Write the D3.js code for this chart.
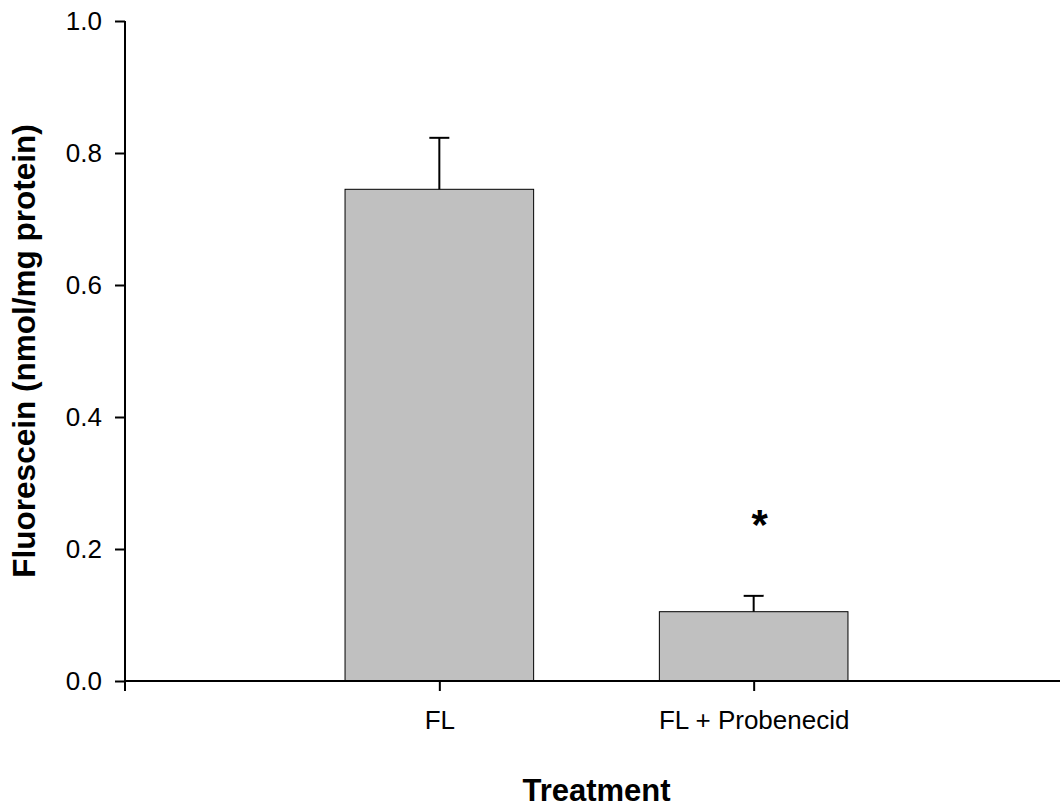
<!DOCTYPE html>
<html>
<head>
<meta charset="utf-8">
<script src="https://cdn.jsdelivr.net/npm/d3@7"></script>
<style>
  html, body { margin: 0; padding: 0; background: #fff; }
  svg { display: block; }
  text { font-family: "Liberation Sans", Arial, sans-serif; fill: #000; }
</style>
</head>
<body>
<svg id="chart" width="1060" height="809"></svg>
<script>
// Fluorescein uptake by treatment (mean with upper SEM bar)
const categories = ["FL", "FL + Probenecid"];
const means = [0.745, 0.105];
const errors = [0.078, 0.024];
const yTicks = [0.0, 0.2, 0.4, 0.6, 0.8, 1.0];
const significance = [{ category: "FL + Probenecid", label: "*", at: 0.215 }];

const svg = d3.select("#chart");
const plotLeft = 125, plotRight = 1068, plotTop = 21, plotBottom = 681;

const x = d3.scalePoint().domain(categories).range([plotLeft, plotRight]).padding(1);
const y = d3.scaleLinear().domain([0, 1]).range([plotBottom, plotTop]);
const barW = x.step() * 0.6;

// bars
svg.append("g").selectAll("rect")
  .data(categories)
  .join("rect")
  .attr("x", d => x(d) - barW / 2)
  .attr("y", (d, i) => y(means[i]))
  .attr("width", barW)
  .attr("height", (d, i) => y(0) - y(means[i]))
  .attr("fill", "#c0c0c0")
  .attr("stroke", "#000")
  .attr("stroke-width", 1);

// upper error bars
const eb = svg.append("g").attr("stroke", "#000").attr("stroke-width", 2);
categories.forEach((c, i) => {
  eb.append("line")
    .attr("x1", x(c)).attr("x2", x(c))
    .attr("y1", y(means[i])).attr("y2", y(means[i] + errors[i]));
  eb.append("line")
    .attr("x1", x(c) - 10).attr("x2", x(c) + 10)
    .attr("y1", y(means[i] + errors[i])).attr("y2", y(means[i] + errors[i]));
});

// y axis
const yAxis = svg.append("g")
  .attr("transform", `translate(${plotLeft},0)`)
  .call(d3.axisLeft(y).tickValues(yTicks).tickFormat(d3.format(".1f")).tickSize(10).tickPadding(13));
yAxis.select(".domain").remove();
yAxis.selectAll(".tick line").attr("stroke", "#000").attr("stroke-width", 2);
yAxis.selectAll(".tick text").style("font-size", "26px").attr("dy", "0.34em");
yAxis.append("line")
  .attr("x1", 0).attr("x2", 0).attr("y1", plotTop).attr("y2", plotBottom + 10)
  .attr("stroke", "#000").attr("stroke-width", 2);

// x axis
const xAxis = svg.append("g")
  .attr("transform", `translate(0,${plotBottom})`)
  .call(d3.axisBottom(x).tickSize(10).tickPadding(20));
xAxis.select(".domain").remove();
xAxis.selectAll(".tick line").attr("stroke", "#000").attr("stroke-width", 2);
xAxis.selectAll(".tick text").style("font-size", "26px").attr("dy", "0.71em");
xAxis.append("line")
  .attr("x1", plotLeft).attr("x2", plotRight).attr("y1", 0).attr("y2", 0)
  .attr("stroke", "#000").attr("stroke-width", 2);

// significance marker
svg.append("g").selectAll("text")
  .data(significance)
  .join("text")
  .attr("x", d => x(d.category) + 6)
  .attr("y", d => y(d.at))
  .attr("text-anchor", "middle")
  .style("font-size", "42px")
  .style("font-weight", "bold")
  .text(d => d.label);

// axis titles
svg.append("text")
  .attr("x", (plotLeft + plotRight) / 2)
  .attr("y", 801)
  .attr("text-anchor", "middle")
  .style("font-size", "31px")
  .style("font-weight", "bold")
  .text("Treatment");

svg.append("text")
  .attr("transform", `translate(35,${(plotTop + plotBottom) / 2}) rotate(-90)`)
  .attr("text-anchor", "middle")
  .style("font-size", "31.5px")
  .style("font-weight", "bold")
  .text("Fluorescein (nmol/mg protein)");
</script>
</body>
</html>
